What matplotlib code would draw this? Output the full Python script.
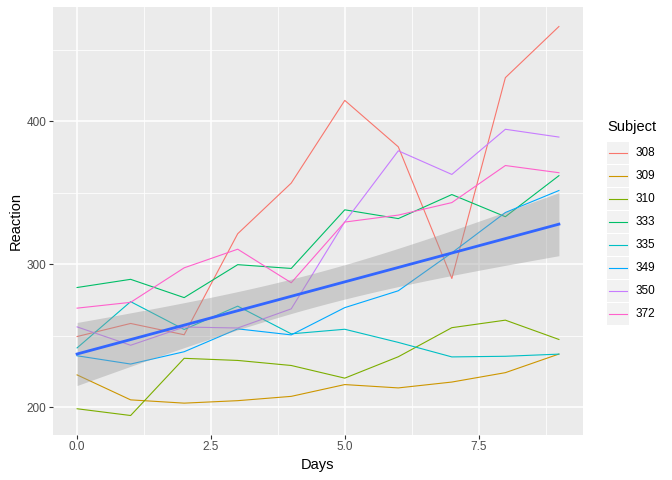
import numpy as np
import matplotlib
matplotlib.use('Agg')
import matplotlib.pyplot as plt
from matplotlib.patches import Rectangle
from matplotlib.lines import Line2D

plt.rcParams['font.family'] = ['Liberation Sans', 'DejaVu Sans']

# sleepstudy subset
days = [0, 1, 2, 3, 4, 5, 6, 7, 8, 9]
subjects = ['308', '309', '310', '333', '335', '349', '350', '372']
r308 = [249.56, 258.70, 250.80, 321.44, 356.85, 414.69, 382.20, 290.15, 430.59, 466.35]
r309 = [222.73, 205.27, 202.98, 204.71, 207.72, 215.96, 213.63, 217.73, 224.30, 237.31]
r310 = [199.05, 194.33, 234.32, 232.84, 229.31, 220.46, 235.42, 255.75, 261.01, 247.52]
r333 = [283.84, 289.56, 276.77, 299.81, 297.17, 338.17, 332.03, 348.84, 333.36, 362.04]
r335 = [241.61, 273.95, 254.49, 270.80, 251.45, 254.64, 245.45, 235.31, 235.75, 237.25]
r349 = [236.10, 230.32, 238.93, 254.92, 250.71, 269.77, 281.56, 308.10, 336.28, 351.65]
r350 = [256.30, 243.45, 256.20, 255.53, 268.92, 329.72, 379.44, 362.92, 394.49, 389.05]
r372 = [269.41, 273.47, 297.60, 310.63, 287.17, 329.61, 334.48, 343.22, 369.14, 364.12]
reactions = [r308, r309, r310, r333, r335, r349, r350, r372]
colors = ['#F8766D', '#CD9600', '#7CAE00', '#00BE67', '#00BFC4', '#00A9FF', '#C77CFF', '#FF61CC']

fig = plt.figure(figsize=(6.72, 4.8), dpi=100)
ax = fig.add_axes([53/672, 45/480, 530/672, 428/480])
ax.set_facecolor('#EBEBEB')

for r, c in zip(reactions, colors):
    ax.plot(days, r, color=c, lw=0.8, zorder=3)

# lm fit over all points with 95% CI (like geom_smooth(method='lm'))
x = np.tile(days, len(reactions)).astype(float)
y = np.concatenate(reactions)
n = len(x)
b, a = np.polyfit(x, y, 1)
resid = y - (a + b * x)
s = np.sqrt(np.sum(resid**2) / (n - 2))
xs = np.linspace(0, 9, 80)
fit = a + b * xs
se = s * np.sqrt(1/n + (xs - x.mean())**2 / np.sum((x - x.mean())**2))
tq = 1.990847  # t(0.975, df=78)
ax.fill_between(xs, fit - tq*se, fit + tq*se, color='#999999', alpha=0.4, lw=0, zorder=4)
ax.plot(xs, fit, color='#3366FF', lw=2.0, zorder=5)

ax.set_xlim(-0.45, 9.45)
ax.set_ylim(180.7, 480)
ax.set_xticks([0, 2.5, 5, 7.5])
ax.set_xticklabels(['0.0', '2.5', '5.0', '7.5'])
ax.set_yticks([200, 300, 400])
ax.set_xticks([1.25, 3.75, 6.25, 8.75], minor=True)
ax.set_yticks([250, 350, 450], minor=True)
ax.grid(which='major', color='white', lw=1.1, zorder=0)
ax.grid(which='minor', color='white', lw=0.55, zorder=0)
ax.set_axisbelow(True)
for sp in ax.spines.values():
    sp.set_visible(False)
ax.tick_params(which='major', length=2.6, width=0.8, color='#333333',
               labelcolor='#4D4D4D', labelsize=8.5, pad=2)
ax.tick_params(which='minor', length=0)
ax.set_xlabel('Days', fontsize=10.5, labelpad=3)
ax.set_ylabel('Reaction', fontsize=10.5, labelpad=3)

# legend drawn manually in pixel coords
W, H = 672, 480
fig.text(607/W, 1 - 127/H, 'Subject', fontsize=10.5, va='center', ha='left')
for i, (lab, c) in enumerate(zip(subjects, colors)):
    yc = 153 + 23 * i
    fig.add_artist(Rectangle((607/W, 1 - (yc + 11)/H), 22/W, 22/H,
                             transform=fig.transFigure, facecolor='#F2F2F2', edgecolor='none'))
    fig.add_artist(Line2D([609/W, 627/W], [1 - yc/H, 1 - yc/H],
                          transform=fig.transFigure, color=c, lw=0.8))
    fig.text(636/W, 1 - yc/H, lab, fontsize=8.5, va='center', ha='left', color='black')

fig.savefig('out.png', dpi=100)
